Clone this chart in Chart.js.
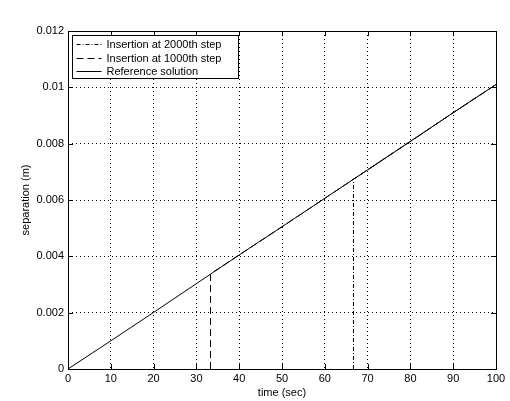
<!DOCTYPE html>
<html>
<head>
<meta charset="utf-8">
<script src="https://cdn.jsdelivr.net/npm/chart.js@4.4.1/dist/chart.umd.min.js"></script>
<style>
  html, body { margin: 0; padding: 0; background: #fff; }
  #wrap { width: 510px; height: 401px; }
</style>
</head>
<body>
<div id="wrap"><canvas id="sepChart"></canvas></div>
<script>
// values
const refTime = [0, 10, 20, 30, 40, 50, 60, 70, 80, 90, 100];
const refSep = [0, 0.001, 0.00201, 0.00303, 0.00405, 0.00505, 0.00606, 0.00707, 0.00808, 0.0091, 0.0101];

const ins1000Time = [33.3, 33.3, 40, 50, 60, 70, 80, 90, 100];
const ins1000Sep = [0, 0.00338, 0.00405, 0.00505, 0.00606, 0.00707, 0.00808, 0.0091, 0.0101];

const ins2000Time = [66.7, 66.7, 70, 80, 90, 100];
const ins2000Sep = [0, 0.00674, 0.00707, 0.00808, 0.0091, 0.0101];

const xTicks = [0, 10, 20, 30, 40, 50, 60, 70, 80, 90, 100];
const yTicks = [0, 0.002, 0.004, 0.006, 0.008, 0.01, 0.012];

const toPoints = (xs, ys) => xs.map((x, i) => ({ x: x, y: ys[i] }));

const fontFam = '"Liberation Sans", Arial, Helvetica, sans-serif';

// box round the axes, inner ticks and the legend, MATLAB style
const matlabFrame = {
  id: 'matlabFrame',
  afterDatasetsDraw(chart) {
    const ctx = chart.ctx;
    const a = chart.chartArea;
    const sx = chart.scales.x;
    const sy = chart.scales.y;
    const len = 5;
    ctx.save();
    ctx.strokeStyle = '#000';
    ctx.lineWidth = 1;
    ctx.setLineDash([]);
    ctx.beginPath();
    xTicks.forEach(v => {
      const px = Math.round(sx.getPixelForValue(v)) + 0.5;
      ctx.moveTo(px, a.bottom); ctx.lineTo(px, a.bottom - len);
      ctx.moveTo(px, a.top); ctx.lineTo(px, a.top + len);
    });
    yTicks.forEach(v => {
      const py = Math.round(sy.getPixelForValue(v)) + 0.5;
      ctx.moveTo(a.left, py); ctx.lineTo(a.left + len, py);
      ctx.moveTo(a.right, py); ctx.lineTo(a.right - len, py);
    });
    ctx.stroke();
    ctx.strokeRect(Math.round(a.left) + 0.5, Math.round(a.top) + 0.5,
      Math.round(a.right - a.left), Math.round(a.bottom - a.top));

    // legend
    const bx = a.left + 4.5, by = a.top + 4.5, bw = 166, bh = 43;
    ctx.fillStyle = '#fff';
    ctx.fillRect(bx, by, bw, bh);
    ctx.strokeRect(bx, by, bw, bh);
    ctx.font = '11px ' + fontFam;
    ctx.textBaseline = 'middle';
    ctx.textAlign = 'left';
    chart.data.datasets.forEach((ds, i) => {
      const ry = Math.round(by + 8.5 + i * 13.5) + 0.5;
      ctx.setLineDash(ds.borderDash || []);
      ctx.strokeStyle = ds.borderColor;
      ctx.beginPath();
      ctx.moveTo(bx + 4, ry);
      ctx.lineTo(bx + 29, ry);
      ctx.stroke();
      ctx.setLineDash([]);
      ctx.fillStyle = '#000';
      ctx.fillText(ds.label, bx + 34, ry);
    });
    ctx.restore();
  }
};

const ctxSep = document.getElementById('sepChart').getContext('2d');
const configSep = {
  type: 'scatter',
  data: {
    datasets: [{
      label: 'Insertion at 2000th step',
      data: toPoints(ins2000Time, ins2000Sep),
      showLine: true,
      borderColor: '#000',
      borderWidth: 1,
      borderDash: [4, 2, 1, 2],
      pointRadius: 0,
      fill: false
    }, {
      label: 'Insertion at 1000th step',
      data: toPoints(ins1000Time, ins1000Sep),
      showLine: true,
      borderColor: '#000',
      borderWidth: 1,
      borderDash: [7, 4],
      pointRadius: 0,
      fill: false
    }, {
      label: 'Reference solution',
      data: toPoints(refTime, refSep),
      showLine: true,
      borderColor: '#000',
      borderWidth: 1,
      pointRadius: 0,
      fill: false
    }]
  },
  options: {
    responsive: true,
    maintainAspectRatio: false,
    animation: false,
    layout: { padding: { top: 31, right: 14, left: 0, bottom: 0 } },
    scales: {
      x: {
        type: 'linear',
        min: 0,
        max: 100,
        afterFit: s => { s.height = 32; },
        afterBuildTicks: s => { s.ticks = xTicks.map(v => ({ value: v })); },
        grid: { color: '#000', lineWidth: 1, drawTicks: false },
        // dotted grid lines
        border: { display: false, dash: [1, 3] },
        ticks: { color: '#000', padding: 3, font: { family: fontFam, size: 11 }, maxRotation: 0 },
        title: { display: true, text: 'time (sec)', color: '#000', padding: { top: 0, bottom: 1 },
          font: { family: fontFam, size: 11 } }
      },
      y: {
        type: 'linear',
        min: 0,
        max: 0.012,
        afterFit: s => { s.width = 68; },
        afterBuildTicks: s => { s.ticks = yTicks.map(v => ({ value: v })); },
        grid: { color: '#000', lineWidth: 1, drawTicks: false },
        border: { display: false, dash: [1, 3] },
        ticks: {
          color: '#000', padding: 4, font: { family: fontFam, size: 11 },
          callback: v => (v === 0 ? '0' : String(Math.round(v * 1000) / 1000))
        },
        title: { display: true, text: 'separation (m)', color: '#000', padding: { top: 19, bottom: 0 },
          font: { family: fontFam, size: 11 } }
      }
    },
    plugins: {
      legend: { display: false },
      tooltip: { enabled: false }
    }
  },
  plugins: [matlabFrame]
};
var sepChart = new Chart(ctxSep, configSep);
</script>
</body>
</html>
